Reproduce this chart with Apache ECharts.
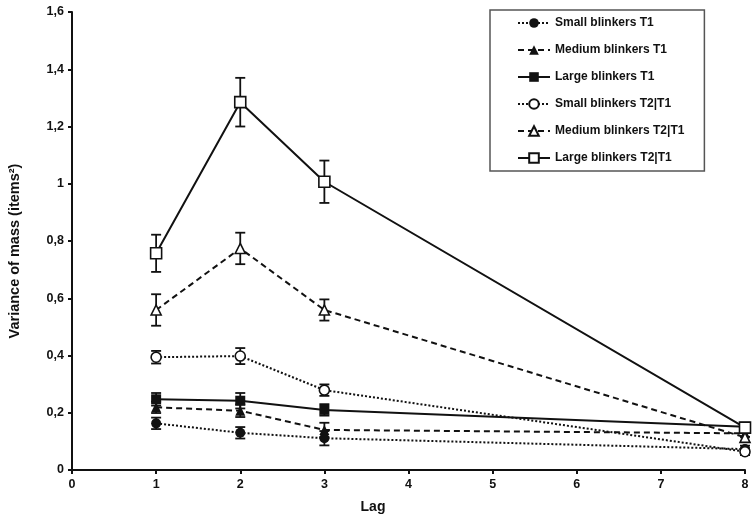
<!DOCTYPE html>
<html>
<head>
<meta charset="utf-8">
<script src="https://cdn.jsdelivr.net/npm/echarts@6/dist/echarts.min.js"></script>
<style>html,body{margin:0;padding:0;background:#fff}#c{width:754px;height:519px}</style>
</head>
<body>
<div id="c"></div>
<script>
var lags = [1, 2, 3, 8];
var seriesNames = ['Small blinkers T1','Medium blinkers T1','Large blinkers T1','Small blinkers T2|T1','Medium blinkers T2|T1','Large blinkers T2|T1'];
var smallT1 = [0.163, 0.130, 0.111, 0.073];
var mediumT1 = [0.219, 0.207, 0.140, 0.128];
var largeT1 = [0.247, 0.242, 0.210, 0.151];
var smallT2 = [0.394, 0.398, 0.279, 0.064];
var mediumT2 = [0.559, 0.774, 0.559, 0.114];
var largeT2 = [0.757, 1.285, 1.007, 0.148];
var errSmallT1 = [0.020, 0.020, 0.025, 0.012];
var errMediumT1 = [0.020, 0.022, 0.025, 0.012];
var errLargeT1 = [0.022, 0.027, 0.020, 0.012];
var errSmallT2 = [0.022, 0.028, 0.020, 0.012];
var errMediumT2 = [0.055, 0.055, 0.037, 0.015];
var errLargeT2 = [0.065, 0.085, 0.074, 0.015];

var values = [smallT1, mediumT1, largeT1, smallT2, mediumT2, largeT2];
var errors = [errSmallT1, errMediumT1, errLargeT1, errSmallT2, errMediumT2, errLargeT2];
var symbols = ['circle','triangle','rect','circle','triangle','rect'];
var filled = [true,true,true,false,false,false];
var lineTypes = [[2,2],[6,4],'solid',[2,2],[6,4],'solid'];
var symSizes = [10,10,10,10,10,11];

var series = [];
values.forEach(function(vals, i){
  var errData = lags.map(function(x, j){ return [x, vals[j] - errors[i][j], vals[j] + errors[i][j]]; });
  series.push({
    type: 'custom',
    name: seriesNames[i] + ' err',
    z: 1,
    silent: true,
    renderItem: function(params, api){
      var x = api.value(0);
      var lo = api.coord([x, api.value(1)]);
      var hi = api.coord([x, api.value(2)]);
      var cap = 5;
      var st = {stroke: '#111', lineWidth: 1.8};
      return {type: 'group', children: [
        {type: 'line', shape: {x1: lo[0], y1: lo[1], x2: hi[0], y2: hi[1]}, style: st},
        {type: 'line', shape: {x1: lo[0]-cap, y1: lo[1], x2: lo[0]+cap, y2: lo[1]}, style: st},
        {type: 'line', shape: {x1: hi[0]-cap, y1: hi[1], x2: hi[0]+cap, y2: hi[1]}, style: st}
      ]};
    },
    encode: {x: 0, y: [1, 2]},
    data: errData
  });
});
values.forEach(function(vals, i){
  series.push({
    type: 'line',
    name: seriesNames[i],
    z: 3 + i,
    data: lags.map(function(x, j){ return [x, vals[j]]; }),
    symbol: symbols[i],
    symbolSize: symSizes[i],
    showAllSymbol: true,
    lineStyle: {color: '#111', width: 2, type: lineTypes[i]},
    itemStyle: {color: filled[i] ? '#111' : '#fff', borderColor: '#111', borderWidth: filled[i] ? 0 : 1.6},
    emphasis: {disabled: true}
  });
});

var chart = echarts.init(document.getElementById('c'));
chart.setOption({
  animation: false,
  backgroundColor: '#fff',
  grid: {left: 72, right: 9, top: 12, bottom: 49, containLabel: false},
  xAxis: {
    type: 'value', min: 0, max: 8, interval: 1,
    axisLine: {lineStyle: {color: '#111', width: 2}},
    axisTick: {show: true, length: 4, lineStyle: {color: '#111', width: 2}},
    axisLabel: {color: '#111', fontFamily: 'Liberation Sans', fontWeight: 'bold', fontSize: 12.5, margin: 8},
    splitLine: {show: false}
  },
  yAxis: {
    type: 'value', min: 0, max: 1.6, interval: 0.2,
    axisLine: {show: true, lineStyle: {color: '#111', width: 2}},
    axisTick: {show: true, length: 4, lineStyle: {color: '#111', width: 2}},
    axisLabel: {color: '#111', fontFamily: 'Liberation Sans', fontWeight: 'bold', fontSize: 12.5, margin: 8,
      formatter: function(v){ return String(Math.round(v*10)/10).replace('.', ','); }},
    splitLine: {show: false}
  },
  legend: {
    orient: 'vertical', left: 490, top: 10,
    data: seriesNames,
    itemWidth: 32, itemHeight: 12, itemGap: 15,
    padding: [7, 20, 7, 27],
    borderColor: '#555', borderWidth: 1.5,
    backgroundColor: '#fff',
    textStyle: {color: '#111', fontFamily: 'Liberation Sans', fontWeight: 'bold', fontSize: 12},
    selectedMode: false
  },
  graphic: [
    {type: 'text', x: 15, y: 251, rotation: Math.PI/2, style: {text: 'Variance of mass (items²)', fill: '#111', font: 'bold 14.5px "Liberation Sans"', textAlign: 'center', textVerticalAlign: 'middle'}},
    {type: 'text', x: 373, y: 507, style: {text: 'Lag', fill: '#111', font: 'bold 14px "Liberation Sans"', textAlign: 'center', textVerticalAlign: 'middle'}}
  ],
  series: series
});
</script>
</body>
</html>
